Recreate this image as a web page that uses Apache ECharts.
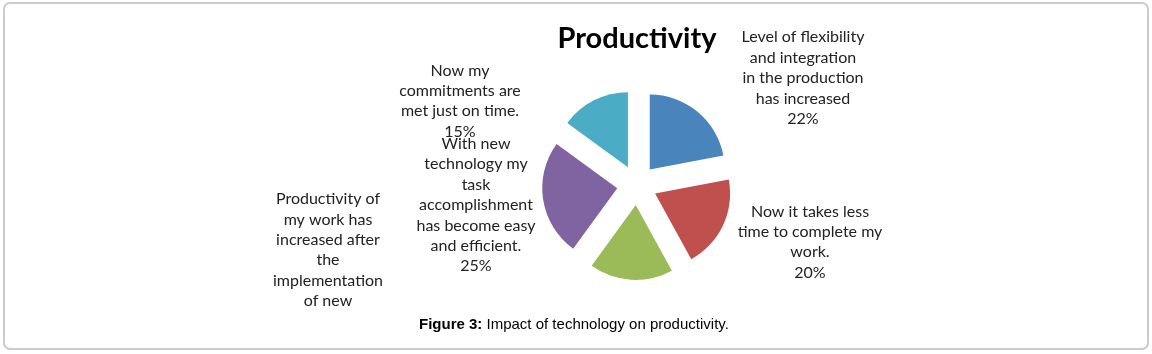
<!DOCTYPE html>
<html>
<head>
<meta charset="utf-8">
<title>Productivity</title>
<script src="https://cdn.jsdelivr.net/npm/echarts@6/dist/echarts.min.js"></script>
<style>
  html, body { margin: 0; padding: 0; background: #fff; }
  #frame {
    position: absolute; left: 3px; top: 2px; width: 1146px; height: 348px;
    box-sizing: border-box; border: 2px solid #cbcbcb; border-radius: 7px;
  }
  #chart { position: absolute; left: 0; top: 0; width: 1152px; height: 354px; }
</style>
</head>
<body>
<div id="frame"></div>
<div id="chart"></div>
<script>
// slices, clockwise from 12 o'clock
const categories = [
  'Level of flexibility\nand integration\nin the production\nhas increased',
  'Now it takes less\ntime to complete my\nwork.',
  'Productivity of\nmy work has\nincreased after\nthe\nimplementation\nof new',
  'With new\ntechnology my\ntask\naccomplishment\nhas become easy\nand efficient.',
  'Now my\ncommitments are\nmet just on time.'
];
const values = [22, 20, 18, 25, 15];
const colors = ['#4a84bd', '#c0504d', '#9bbb59', '#8064a2', '#4bacc6'];

// where Excel put each label (centre of text block)
const labelPos = [[803, 78], [810, 242], [328, 250], [476, 205], [460, 101]];
// the green label is cut off in the original, no percentage shown
const showPct = [true, true, false, true, true];

const total = values.reduce(function (a, b) { return a + b; }, 0);

const myChart = echarts.init(document.getElementById('chart'));

const options = {
  animation: false,
  title: [
    {
      text: 'Productivity',
      left: 637,
      top: 24,
      padding: 0,
      textAlign: 'center',
      textStyle: {
        fontFamily: 'Lato',
        fontWeight: 'bold',
        fontSize: 29,
        color: '#000'
      }
    },
    {
      text: '{b|Figure 3:} Impact of technology on productivity.',
      left: 419,
      top: 317,
      padding: 0,
      textStyle: {
        fontFamily: 'Liberation Sans',
        fontSize: 15,
        fontWeight: 'normal',
        color: '#000',
        rich: {
          b: { fontFamily: 'Liberation Sans', fontSize: 15, fontWeight: 'bold', color: '#000' }
        }
      }
    }
  ],
  // data labels, placed where the original chart had them
  graphic: categories.map(function (name, i) {
    const pct = Math.round(values[i] / total * 100);
    return {
      type: 'text',
      x: labelPos[i][0],
      y: labelPos[i][1],
      silent: true,
      style: {
        text: showPct[i] ? name + '\n' + pct + '%' : name,
        align: 'center',
        verticalAlign: 'middle',
        fontFamily: 'Lato',
        fontSize: 16,
        lineHeight: 20.4,
        fill: '#222'
      }
    };
  }),
  series: [
    {
      type: 'pie',
      center: [637, 185],
      radius: 75,
      startAngle: 90,
      selectedMode: 'multiple',
      selectedOffset: 20,
      emphasis: { scale: false },
      label: { show: false },
      labelLine: { show: false },
      data: categories.map(function (name, i) {
        return {
          name: name,
          value: values[i],
          selected: true,
          itemStyle: { color: colors[i] }
        };
      })
    }
  ]
};

options && myChart.setOption(options);
</script>
</body>
</html>
